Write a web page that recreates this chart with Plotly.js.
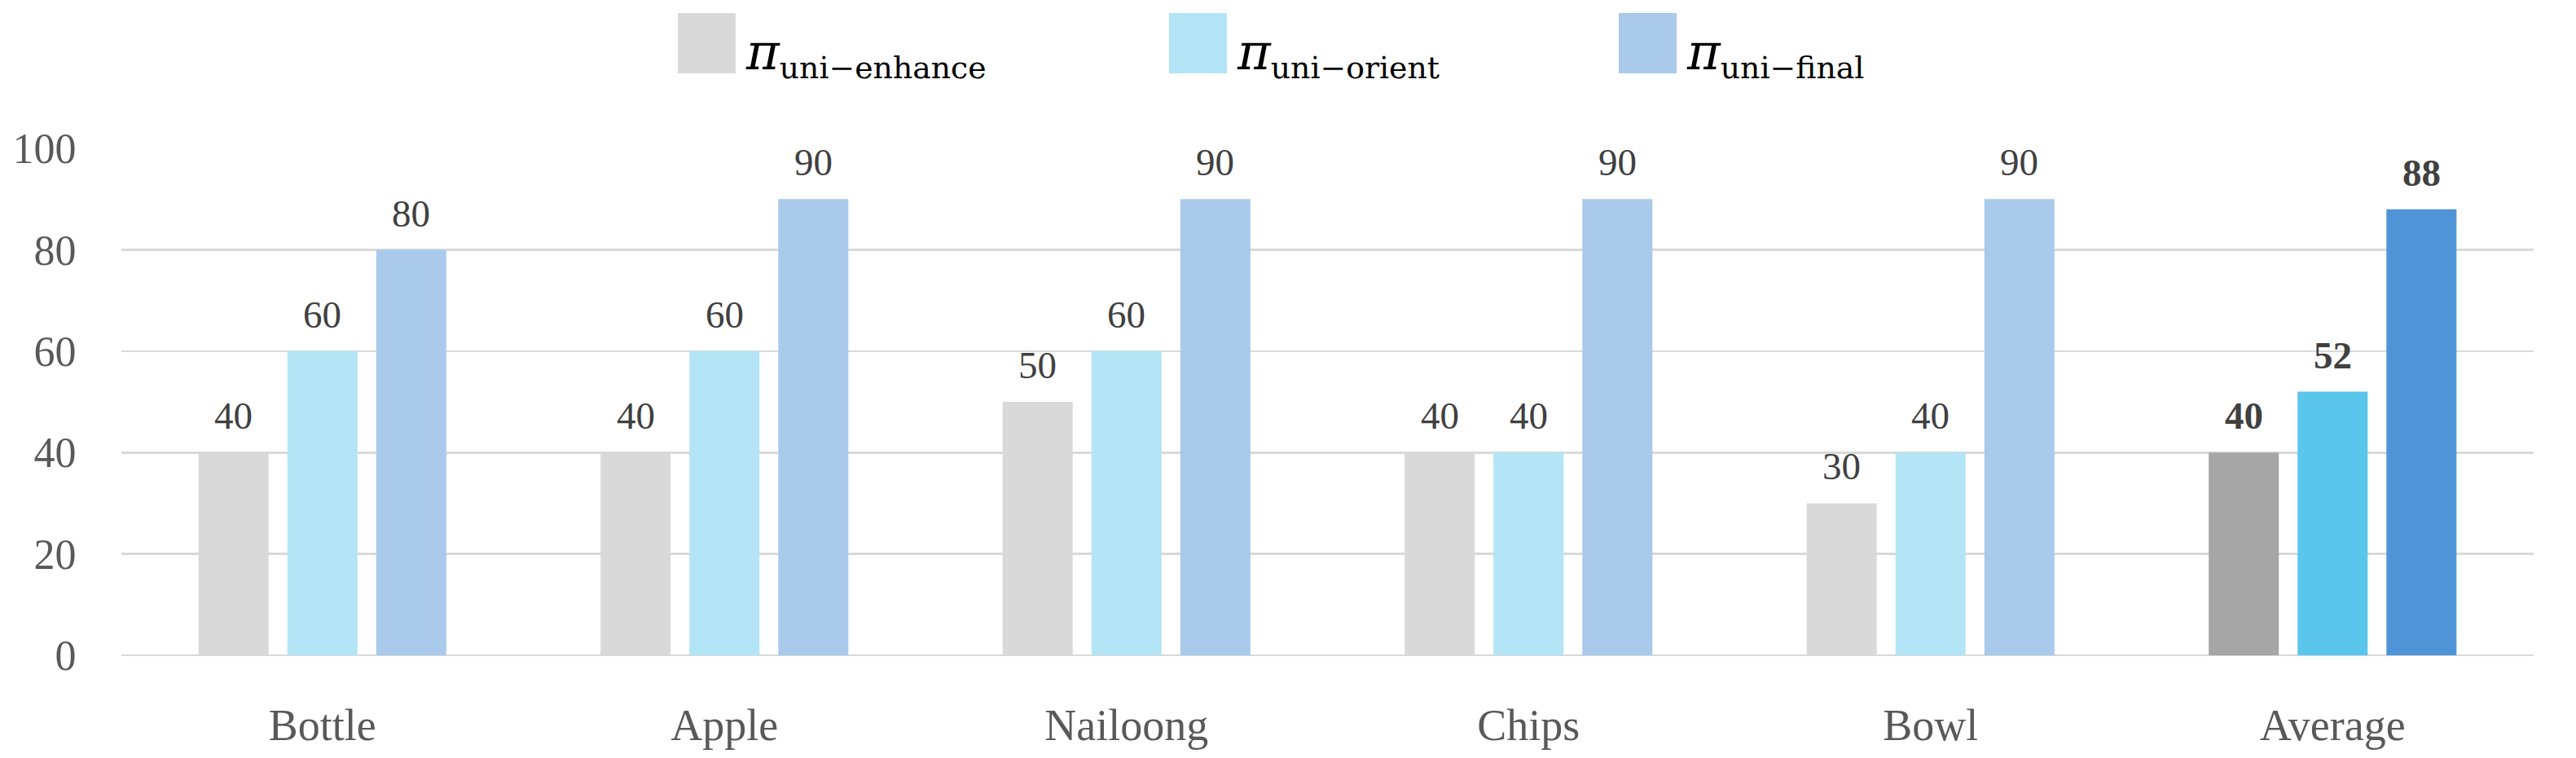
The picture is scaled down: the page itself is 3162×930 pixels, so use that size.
<!DOCTYPE html>
<html>
<head>
<meta charset="utf-8">
<script src="https://cdn.plot.ly/plotly-3.0.1.min.js"></script>
<style>html,body{margin:0;padding:0;background:#fff;}#chart{width:3162px;height:930px;}</style>
</head>
<body>
<div id="chart"></div>
<script>
// ---- data ----
const categories = ["Bottle", "Apple", "Nailoong", "Chips", "Bowl", "Average"];
const seriesNames = ["uni−enhance", "uni−orient", "uni−final"];
const enhanceValues = [40, 40, 50, 40, 30, 40];
const orientValues  = [60, 60, 60, 40, 40, 52];
const finalValues   = [80, 90, 90, 90, 90, 88];
const yTickValues = [0, 20, 40, 60, 80, 100];

// ---- styling ----
const W = 3162, H = 930;
const M = {l: 149, r: 52, t: 182, b: 126};
const plotW = W - M.l - M.r, plotH = H - M.t - M.b;
const BARGAP = 0.337, BARGROUPGAP = 0.211;
const lightColors = ["#d9d9d9", "#b3e5f6", "#a9caeb"];
const avgColors   = ["#a6a6a6", "#5bc6eb", "#5094d8"];
const serif = "Liberation Serif, Times New Roman, serif";
const allValues = [enhanceValues, orientValues, finalValues];

const traces = allValues.map((vals, i) => ({
  type: "bar",
  name: seriesNames[i],
  x: categories,
  y: vals,
  marker: {color: categories.map(c => c === "Average" ? avgColors[i] : lightColors[i])},
  hoverinfo: "x+y",
  showlegend: false
}));

// data labels as annotations (offset to each bar in group)
const catPx = plotW / categories.length;
const slotPx = catPx * (1 - BARGAP) / allValues.length;
const annotations = [];
allValues.forEach((vals, i) => {
  vals.forEach((v, j) => {
    const isAvg = categories[j] === "Average";
    annotations.push({
      x: categories[j], y: v, xref: "x", yref: "y",
      xshift: (i - (allValues.length - 1) / 2) * slotPx,
      yshift: 17,
      yanchor: "bottom", xanchor: "center",
      showarrow: false,
      text: isAvg ? "<b>" + v + "</b>" : String(v),
      font: {family: serif, size: 47, color: "#404040"}
    });
  });
});

// custom legend (large square swatches)
const pxX = x => (x - M.l) / plotW;
const pxY = y => (H - M.b - y) / plotH;
const legendSwatchX = [832, 1435, 1987];
const SW = 71;
const shapes = [];
legendSwatchX.forEach((x0, i) => {
  shapes.push({type: "rect", xref: "paper", yref: "paper",
    x0: pxX(x0), x1: pxX(x0 + SW), y0: pxY(90), y1: pxY(16),
    fillcolor: lightColors[i], line: {width: 0}});
  annotations.push({
    xref: "paper", yref: "paper", x: pxX(x0 + SW + 10), y: pxY(66),
    xanchor: "left", yanchor: "middle", showarrow: false,
    text: "<i><span style=\"font-size:62px\">π</span></i><sub>" + seriesNames[i] + "</sub>",
    font: {family: "DejaVu Serif, serif", size: 54, color: "#000000"}
  });
});

const layout = {
  width: W, height: H,
  margin: M,
  paper_bgcolor: "#ffffff", plot_bgcolor: "#ffffff",
  barmode: "group", bargap: BARGAP, bargroupgap: BARGROUPGAP,
  showlegend: false,
  xaxis: {
    type: "category",
    tickfont: {family: serif, size: 54, color: "#595959"},
    ticks: "outside", ticklen: 38, tickcolor: "rgba(0,0,0,0)",
    showgrid: false, showline: false, zeroline: false
  },
  yaxis: {
    range: [0, 100.02],
    tickvals: yTickValues,
    ticktext: yTickValues.map(String),
    tickfont: {family: serif, size: 52, color: "#595959"},
    ticks: "outside", ticklen: 44, tickcolor: "rgba(0,0,0,0)",
    showgrid: true, gridcolor: "#d9d9d9", gridwidth: 2.6,
    zeroline: true, zerolinecolor: "#d9d9d9", zerolinewidth: 2.6,
    showline: false
  },
  shapes: shapes,
  annotations: annotations
};

Plotly.newPlot("chart", traces, layout, {displayModeBar: false, staticPlot: true});
</script>
</body>
</html>
